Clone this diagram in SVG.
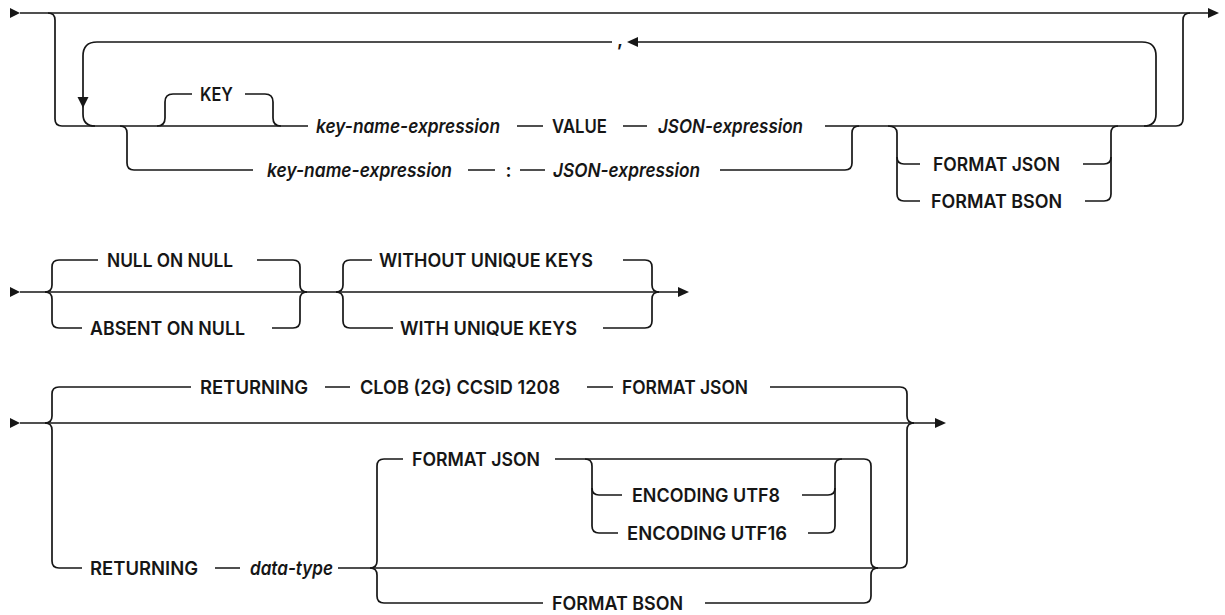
<svg xmlns="http://www.w3.org/2000/svg" width="1225" height="615" viewBox="0 0 1225 615">
<style>
.c{fill:none;stroke:#161616;stroke-width:1.7}
.a{fill:#161616;stroke:none}
.t{font-family:Inter,"Liberation Sans",sans-serif;font-size:19px;font-weight:600;fill:#161616;text-anchor:middle}
.i{font-style:italic}
</style>
<rect width="1225" height="615" fill="#ffffff"/>
<g id="connectors">
<!-- row 1 -->
<path class="c" d="M20 13 H1209"/>
<path class="c" d="M48 13 Q55 13 55 20 V119 Q55 126 62 126 H308 M517 126 H543 M623 126 H647 M825 126 H1176 Q1183 126 1183 119 V20 Q1183 13 1190 13"/>
<path class="c" d="M157 126 Q165 126 165 118 V102 Q165 94 173 94 H192 M245 94 H265 Q273 94 273 102 V118 Q273 126 281 126"/>
<path class="c" d="M120 126 Q127 126 127 133 V163 Q127 170 134 170 H253 M468 170 H495 M520 170 H545 M720 170 H845 Q852 170 852 163 V133 Q852 126 859 126"/>
<path class="c" d="M612 42 H97 Q83 42 83 56 V100 M83 104 V114 Q83 126 95 126"/>
<path class="c" d="M637 42 H1142 Q1156 42 1156 56 V114 Q1156 126 1144 126"/>
<path class="c" d="M888 126 Q897 126 897 133 V157 Q897 164 904 164 H920 M1083 164 H1104 Q1111 164 1111 157 V133 Q1111 126 1118 126"/>
<path class="c" d="M897 157 V194 Q897 201 904 201 H920 M1085 201 H1104 Q1111 201 1111 194 V157"/>
<polygon class="a" points="10,8 20,13 10,18"/>
<polygon class="a" points="1208,8 1219,13 1208,18"/>
<polygon class="a" points="77.5,97 88.5,97 83,108"/>
<polygon class="a" points="627,42 638,37 638,47"/>
<!-- row 2 -->
<path class="c" d="M20 292 H679"/>
<path class="c" d="M45 292 Q52 292 52 285 V267 Q52 260 59 260 H98 M257 260 H293 Q300 260 300 267 V285 Q300 292 307 292"/>
<path class="c" d="M45 292 Q52 292 52 299 V321 Q52 328 59 328 H82 M272 328 H293 Q300 328 300 321 V299 Q300 292 307 292"/>
<path class="c" d="M336 292 Q343 292 343 285 V267 Q343 260 350 260 H372 M623 260 H645 Q652 260 652 267 V285 Q652 292 659 292"/>
<path class="c" d="M336 292 Q343 292 343 299 V321 Q343 328 350 328 H393 M603 328 H645 Q652 328 652 321 V299 Q652 292 659 292"/>
<polygon class="a" points="10,287 20,292 10,297"/>
<polygon class="a" points="678,287 689,292 678,297"/>
<!-- row 3 -->
<path class="c" d="M20 423 H936"/>
<path class="c" d="M45 423 Q52 423 52 416 V394 Q52 387 59 387 H191 M325 387 H350 M587 387 H613 M770 387 H900 Q907 387 907 394 V416 Q907 423 914 423"/>
<path class="c" d="M45 423 Q52 423 52 430 V561 Q52 568 59 568 H82 M215 568 H240 M338 568 H900 Q907 568 907 561 V430 Q907 423 914 423"/>
<path class="c" d="M370 568 Q377 568 377 561 V466 Q377 459 384 459 H403 M555 459 H864 Q871 459 871 466 V561 Q871 568 878 568"/>
<path class="c" d="M370 568 Q377 568 377 575 V596 Q377 603 384 603 H543 M705 603 H864 Q871 603 871 596 V575 Q871 568 878 568"/>
<path class="c" d="M585 459 Q592 459 592 466 V488 Q592 495 599 495 H622 M802 495 H828 Q835 495 835 488 V466 Q835 459 842 459"/>
<path class="c" d="M592 488 V526 Q592 533 599 533 H618 M808 533 H828 Q835 533 835 526 V488"/>
<polygon class="a" points="10,418 20,423 10,428"/>
<polygon class="a" points="935,418 946,423 935,428"/>
</g>
<g id="n-key"><text class="t" x="216.5" y="101" textLength="33" lengthAdjust="spacingAndGlyphs">KEY</text></g>
<g id="n-keyname1"><text class="t i" x="408" y="133" textLength="184" lengthAdjust="spacingAndGlyphs">key-name-expression</text></g>
<g id="n-value"><text class="t" x="579.5" y="133" textLength="55" lengthAdjust="spacingAndGlyphs">VALUE</text></g>
<g id="n-json1"><text class="t i" x="730.5" y="133" textLength="145" lengthAdjust="spacingAndGlyphs">JSON-expression</text></g>
<g id="n-comma"><text class="t" x="620" y="46">,</text></g>
<g id="n-keyname2"><text class="t i" x="359.5" y="177" textLength="185" lengthAdjust="spacingAndGlyphs">key-name-expression</text></g>
<g id="n-colon"><text class="t" x="508.5" y="177">:</text></g>
<g id="n-json2"><text class="t i" x="626.5" y="177" textLength="147" lengthAdjust="spacingAndGlyphs">JSON-expression</text></g>
<g id="n-fmtjson1"><text class="t" x="996.5" y="171" textLength="127" lengthAdjust="spacingAndGlyphs">FORMAT JSON</text></g>
<g id="n-fmtbson1"><text class="t" x="996.5" y="208" textLength="131" lengthAdjust="spacingAndGlyphs">FORMAT BSON</text></g>
<g id="n-nullonnull"><text class="t" x="170" y="267" textLength="126" lengthAdjust="spacingAndGlyphs">NULL ON NULL</text></g>
<g id="n-absent"><text class="t" x="167.5" y="335" textLength="155" lengthAdjust="spacingAndGlyphs">ABSENT ON NULL</text></g>
<g id="n-without"><text class="t" x="486" y="267" textLength="214" lengthAdjust="spacingAndGlyphs">WITHOUT UNIQUE KEYS</text></g>
<g id="n-with"><text class="t" x="488.5" y="335" textLength="177" lengthAdjust="spacingAndGlyphs">WITH UNIQUE KEYS</text></g>
<g id="n-returning1"><text class="t" x="254" y="394" textLength="108" lengthAdjust="spacingAndGlyphs">RETURNING</text></g>
<g id="n-clob"><text class="t" x="460" y="394" textLength="200" lengthAdjust="spacingAndGlyphs">CLOB (2G) CCSID 1208</text></g>
<g id="n-fmtjson2"><text class="t" x="685" y="394" textLength="126" lengthAdjust="spacingAndGlyphs">FORMAT JSON</text></g>
<g id="n-returning2"><text class="t" x="144" y="575" textLength="108" lengthAdjust="spacingAndGlyphs">RETURNING</text></g>
<g id="n-datatype"><text class="t i" x="291.5" y="575" textLength="83" lengthAdjust="spacingAndGlyphs">data-type</text></g>
<g id="n-fmtjson3"><text class="t" x="476" y="466" textLength="128" lengthAdjust="spacingAndGlyphs">FORMAT JSON</text></g>
<g id="n-utf8"><text class="t" x="706" y="502" textLength="148" lengthAdjust="spacingAndGlyphs">ENCODING UTF8</text></g>
<g id="n-utf16"><text class="t" x="707" y="540" textLength="160" lengthAdjust="spacingAndGlyphs">ENCODING UTF16</text></g>
<g id="n-fmtbson2"><text class="t" x="617.5" y="610" textLength="131" lengthAdjust="spacingAndGlyphs">FORMAT BSON</text></g>
</svg>
